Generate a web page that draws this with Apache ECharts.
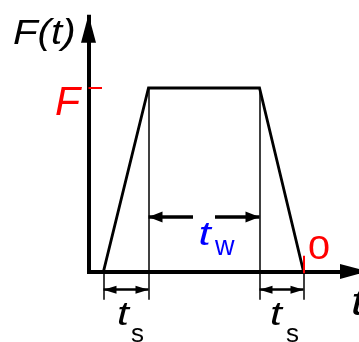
<!DOCTYPE html>
<html>
<head>
<meta charset="utf-8">
<style>
  html, body { margin: 0; padding: 0; background: #fff; }
  #chart { width: 359px; height: 342px; }
</style>
<script src="https://cdn.jsdelivr.net/npm/echarts@6/dist/echarts.min.js"></script>
</head>
<body>
<div id="chart"></div>
<script>
// time in units of ~10 px, force scaled so the plateau F = 1
const pulseTimes = [1.5, 6.0, 17.1, 21.5]
const pulseForces = [0, 1, 1, 0]
const axisTips = [27.05, 1.40] // end of t axis (runs off the edge), end of F axis
const guideBottom = -0.155
const twLevel = 0.297
const twGap = [10.45, 12.65]
const tsLevel = -0.10
const fTickEnd = 1.35
const zeroTickTop = 0.085

const axisNames = ['F(t)', 't']
const levelNames = ['F', '0']
const spanNames = ['t', 'w', 's']

const font = '"Liberation Sans", Arial, sans-serif'

const myChart = echarts.init(document.getElementById('chart'))

// sym: [width, length] of a triangle head; its tip sits `over` px past the point
const pt = (x, y, sym, over) => {
  if (!sym) return { coord: [x, y], symbol: 'none' }
  return {
    coord: [x, y],
    symbol: 'triangle',
    symbolSize: sym,
    symbolOffset: [0, sym[1] / 2 - (over || 0)],
  }
}

const markLine = (data, color, width) => ({
  silent: true,
  animation: false,
  label: { show: false },
  emphasis: { disabled: true },
  lineStyle: { color: color, width: width, type: 'solid', opacity: 1 },
  itemStyle: { color: color },
  data: data,
})

const hostSeries = (name, ml) => ({
  name: name,
  type: 'line',
  data: [],
  silent: true,
  animation: false,
  markLine: ml,
})

const axisHead = [15, 28]
const twHead = [11, 14]
const tsHead = [8, 13]

const text = (x, y, str, size, color, italic, sx) => ({
  type: 'text',
  x: x,
  y: y,
  scaleX: sx || 1,
  silent: true,
  style: {
    text: str,
    fill: color,
    fontSize: size,
    fontStyle: italic ? 'italic' : 'normal',
    fontFamily: font,
    align: 'left',
    textAlign: 'left',
    verticalAlign: 'middle',
    textVerticalAlign: 'middle',
  },
})

const options = {
  animation: false,
  grid: { left: 0, right: 0, top: 0, bottom: 0, containLabel: false },
  xAxis: { type: 'value', min: -8.85, max: 27.05, show: false },
  yAxis: { type: 'value', min: -0.385, max: 1.48, show: false },
  series: [
    // 轴
    hostSeries('axes', markLine([
      [pt(0, -0.01), pt(0, axisTips[1], axisHead)],
      [pt(-0.15, 0), pt(axisTips[0], 0, axisHead, 9)],
    ], '#000', 4)),
    // 细辅助线
    hostSeries('guides', markLine([
      [pt(pulseTimes[1], pulseForces[1]), pt(pulseTimes[1], guideBottom)],
      [pt(pulseTimes[2], pulseForces[2]), pt(pulseTimes[2], guideBottom)],
      [pt(pulseTimes[0], 0), pt(pulseTimes[0], guideBottom)],
      [pt(pulseTimes[3], 0), pt(pulseTimes[3], guideBottom)],
    ], '#000', 1.5)),
    // tw 尺寸线
    hostSeries('tw', markLine([
      [pt(twGap[0], twLevel), pt(pulseTimes[1], twLevel, twHead)],
      [pt(twGap[1], twLevel), pt(pulseTimes[2], twLevel, twHead)],
    ], '#000', 3.5)),
    // ts 尺寸线
    hostSeries('ts', markLine([
      [pt(pulseTimes[0], tsLevel, tsHead), pt(pulseTimes[1], tsLevel, tsHead)],
      [pt(pulseTimes[2], tsLevel, tsHead), pt(pulseTimes[3], tsLevel, tsHead)],
    ], '#000', 2.5)),
    // 红色刻度
    hostSeries('ticks', markLine([
      [pt(0, pulseForces[1]), pt(fTickEnd, pulseForces[1])],
      [pt(pulseTimes[3], -0.01), pt(pulseTimes[3], zeroTickTop)],
    ], '#ff0000', 2)),
    // 脉冲
    {
      name: 'F(t)',
      type: 'line',
      data: pulseTimes.map((t, i) => [t, pulseForces[i]]),
      showSymbol: false,
      symbol: 'none',
      silent: true,
      animation: false,
      lineStyle: { color: '#000', width: 2.8, join: 'miter' },
      z: 3,
    },
  ],
  graphic: [
    text(13, 34, axisNames[0], 35, '#000', true, 1.15),
    text(351, 304, axisNames[1], 38, '#000', true, 1.3),
    text(55, 103.5, levelNames[0], 41, '#ff0000', true),
    text(308, 249.5, levelNames[1], 33, '#ff0000', false, 1.2),
    text(198.5, 235.5, spanNames[0], 34, '#0000ff', true, 1.3),
    text(215, 247.5, spanNames[1], 27, '#0000ff', false),
    text(117, 315.5, spanNames[0], 33, '#000', true, 1.3),
    text(131, 335, spanNames[2], 26, '#000', false),
    text(270, 315.5, spanNames[0], 33, '#000', true, 1.3),
    text(286, 335, spanNames[2], 26, '#000', false),
  ],
}

myChart.setOption(options)
</script>
</body>
</html>
